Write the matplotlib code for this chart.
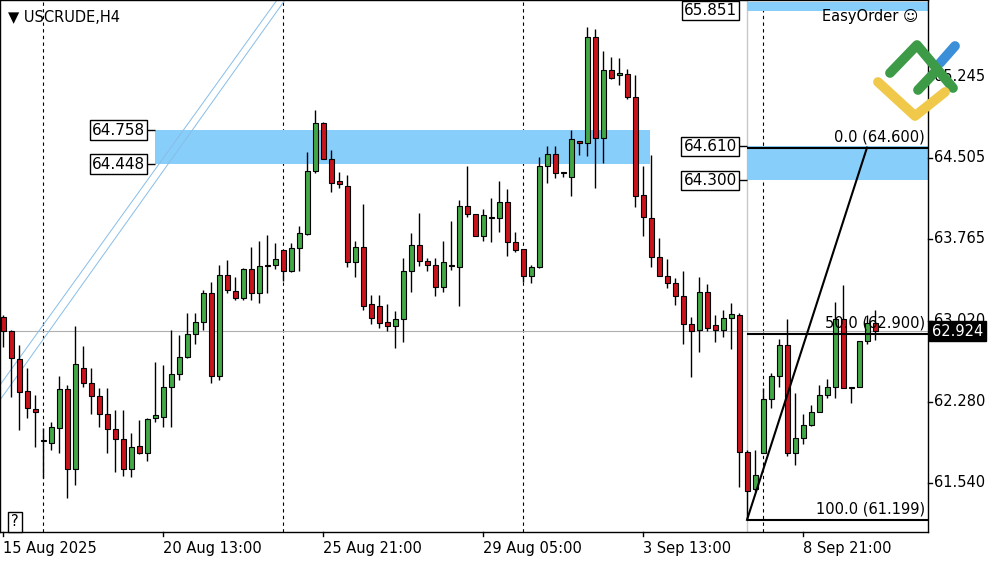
import matplotlib
matplotlib.use("Agg")
import matplotlib.pyplot as plt
from matplotlib.patches import Rectangle

opens = [63.05,62.92,62.67,62.38,62.21,61.93,61.90,62.04,62.39,61.66,62.59,62.45,62.33,62.17,62.03,61.94,61.66,61.87,61.81,62.13,
62.14,62.41,62.53,62.69,62.90,63.01,63.27,62.51,63.44,63.29,63.23,63.49,63.27,63.53,63.53,63.66,63.47,63.68,63.81,64.39,
64.82,64.50,64.29,64.25,63.55,63.69,63.17,63.15,63.01,62.97,63.03,63.47,63.71,63.56,63.53,63.33,63.53,63.51,64.07,63.99,
63.79,63.97,63.96,64.10,63.74,63.67,63.43,63.51,64.43,64.54,64.37,64.33,64.66,64.64,65.61,64.69,65.31,65.26,65.27,65.06,
64.17,63.96,63.60,63.43,63.36,63.24,62.99,62.93,63.28,62.98,62.93,63.04,63.07,61.82,61.48,61.81,62.30,62.51,62.80,61.81,
61.95,62.07,62.18,62.34,62.41,63.03,62.41,62.41,62.83,63.00]
closes = [62.92,62.68,62.37,62.22,62.18,61.92,62.05,62.39,61.66,62.62,62.45,62.33,62.17,62.03,61.94,61.66,61.86,61.81,62.12,62.16,
62.41,62.53,62.69,62.90,63.01,63.27,62.51,63.44,63.30,63.23,63.49,63.27,63.52,63.52,63.58,63.47,63.68,63.82,64.39,64.82,
64.50,64.28,64.27,63.55,63.69,63.15,63.04,63.00,62.97,63.03,63.47,63.71,63.56,63.53,63.33,63.55,63.52,64.07,63.99,63.79,
63.98,63.96,64.10,63.74,63.66,63.43,63.51,64.43,64.54,64.37,64.38,64.68,64.64,65.61,64.69,65.31,65.24,65.28,65.06,64.16,
63.97,63.60,63.43,63.36,63.24,62.99,62.92,63.28,62.95,62.93,63.04,63.08,61.82,61.46,61.61,62.30,62.51,62.80,61.81,61.95,
62.07,62.18,62.34,62.41,63.03,62.40,62.40,62.83,63.00,62.924]
highs = [63.07,62.93,62.80,62.59,62.34,62.04,62.09,62.51,62.43,62.97,62.79,62.59,62.40,62.40,62.20,62.20,61.99,62.11,62.13,62.64,
62.61,62.93,62.89,63.09,63.09,63.30,63.37,63.53,63.57,63.42,63.50,63.69,63.75,63.80,63.73,63.66,63.73,63.88,64.56,64.94,
64.83,64.58,64.38,64.35,63.75,64.08,63.25,63.25,63.17,63.11,63.59,63.82,64.00,63.59,63.59,63.75,63.93,64.12,64.43,63.99,
64.04,64.14,64.29,64.22,63.83,63.67,63.53,64.51,64.61,64.61,64.38,64.76,64.66,65.70,65.68,65.48,65.43,65.42,65.32,65.26,
64.43,64.53,63.77,63.58,63.41,63.47,63.05,63.42,63.35,63.07,63.12,63.18,63.09,61.84,61.84,62.40,62.54,62.85,63.03,62.36,
62.17,62.25,62.43,62.49,63.19,63.34,62.41,62.83,63.07,63.12]
lows = [62.78,62.32,62.02,62.13,61.86,61.58,61.84,61.81,61.40,61.52,62.41,62.17,62.05,61.81,61.64,61.60,61.59,61.80,61.74,62.09,
62.05,62.05,62.48,62.68,62.81,62.93,62.45,62.48,63.27,63.21,63.21,63.21,63.18,63.27,63.49,63.38,63.46,63.47,63.80,64.37,
64.50,64.19,64.23,63.51,63.42,63.12,62.99,62.95,62.92,62.77,62.82,63.28,63.52,63.47,63.24,63.28,63.48,63.15,63.97,63.79,
63.75,63.74,63.83,63.61,63.65,63.37,63.36,63.50,64.28,64.32,64.33,64.16,64.53,64.52,64.23,64.46,65.23,65.17,65.04,64.06,
63.79,63.51,63.43,63.32,63.16,62.81,62.50,62.73,62.92,62.82,62.87,62.76,61.50,61.20,61.46,61.81,62.22,62.41,61.78,61.70,
61.89,62.06,62.18,62.31,62.31,62.40,62.27,62.41,62.81,62.84]

x_labels = ["15 Aug 2025", "20 Aug 13:00", "25 Aug 21:00", "29 Aug 05:00", "3 Sep 13:00", "8 Sep 21:00"]
x_label_idx = [0, 20, 40, 60, 80, 100]
sep_idx = [5, 35, 65, 95]
y_ticks = [65.245, 64.505, 63.765, 63.020, 62.280, 61.540]
zone1 = (64.448, 64.758)
zone2 = (64.300, 64.610)
fib = (61.199, 62.900, 64.600)
last_price = 62.924
top_price = 65.851

W, H = 1000, 562
FS = 10.5
fig = plt.figure(figsize=(W/100, H/100), dpi=100)
ax = fig.add_axes([0, 30/H, 928/W, 532/H])
PX = 8.0
def kx(px):
    return (px - 3.3) / PX
ymax, ymin = 65.948, 61.088
ax.set_xlim(kx(0), kx(928))
ax.set_ylim(ymin, ymax)
def py(y):
    return ymax - (ymax - ymin) * y / 532

green, red = "#41a845", "#c8141c"
for i, (o, c, h, l) in enumerate(zip(opens, closes, highs, lows)):
    ax.vlines(i, l, h, color="black", lw=1, zorder=3)
    lo, hi = min(o, c), max(o, c)
    ht = max(hi - lo, 0.008)
    ax.add_patch(Rectangle((i - 0.32, lo), 0.64, ht, facecolor=green if c >= o else red,
                           edgecolor="black", lw=0.8, zorder=4))

ax.add_patch(Rectangle((kx(155), zone1[0]), kx(650) - kx(155), zone1[1] - zone1[0], color="#87cefa", zorder=1, lw=0))
ax.add_patch(Rectangle((kx(747), zone2[0]), kx(928) - kx(747), zone2[1] - zone2[0], color="#87cefa", zorder=1, lw=0))
ax.add_patch(Rectangle((kx(747), py(11)), kx(928) - kx(747), py(2) - py(11), color="#87cefa", zorder=1, lw=0))

def label_box(px_right, val, txt=None):
    ax.text(kx(px_right), val, txt or f"{val:.3f}", ha="right", va="center", fontsize=FS + 0.5,
            bbox=dict(boxstyle="square,pad=0.15", fc="white", ec="black", lw=1), zorder=6)
label_box(145, zone1[1]); label_box(145, zone1[0])
ax.hlines([zone1[1], zone1[0]], kx(147), kx(155), color="black", lw=1)
label_box(737, zone2[1]); label_box(737, zone2[0])
ax.hlines([zone2[1], zone2[0]], kx(739), kx(747), color="black", lw=1)
label_box(737, top_price)

for s in sep_idx:
    ax.axvline(s, color="black", lw=0.8, ls=(0, (3, 3)), zorder=0)
ax.axvline(kx(747), color="#c8c8c8", lw=1, zorder=0)
ax.axhline(last_price, color="#b0b0b0", lw=0.8, zorder=0)

ax.plot([kx(0), kx(285)], [py(400), py(0)], color="#87bde8", lw=0.7, zorder=2)
ax.plot([kx(0), kx(277)], [py(385), py(0)], color="#87bde8", lw=0.7, zorder=2)

ax.hlines(fib, kx(747), kx(928), color="black", lw=1.5, zorder=5)
ax.plot([kx(747), kx(867)], [fib[0], fib[2]], color="black", lw=1.5, zorder=5)
for lvl, v in zip(["100.0", "50.0", "0.0"], fib):
    ax.text(kx(925), v + 0.03, f"{lvl} ({v:.3f})", ha="right", va="bottom", fontsize=FS, zorder=6)

ax.set_xticks([]); ax.set_yticks([])
for s in ax.spines.values():
    s.set_color("black"); s.set_linewidth(1)
def fy(v):
    return (30 + 532 * (v - ymin) / (ymax - ymin)) / H
for t in y_ticks:
    fig.text(934/W, fy(t), f"{t:.3f}", fontsize=FS, va="center")
    fig.add_artist(plt.Line2D([928/W, 932/W], [fy(t)] * 2, color="black", lw=1))
fig.text(932/W, fy(last_price), f"{last_price:.3f}", fontsize=FS,
         va="center", color="white", bbox=dict(boxstyle="square,pad=0.2", fc="black", ec="black"))
for lab, idx in zip(x_labels, x_label_idx):
    fig.text((3.3 + PX * idx) / W, 14/H, lab, fontsize=FS, va="center", ha="left")
    fig.add_artist(plt.Line2D([(3.3 + PX * idx) / W] * 2, [26/H, 30/H], color="black", lw=1))

fig.text(8/W, 545/H, "▼ USCRUDE,H4", fontsize=FS, va="center")
fig.text(822/W, 545/H, "EasyOrder ☺", fontsize=FS, va="center")
fig.text(15/W, 40/H, "?", fontsize=FS, ha="center", va="center",
         bbox=dict(boxstyle="square,pad=0.2", fc="white", ec="black"))

def seg(xs, ys, col):
    fig.add_artist(plt.Line2D([x / W for x in xs], [(H - y) / H for y in ys], color=col, lw=7,
                              solid_capstyle="round", solid_joinstyle="round", zorder=10))
seg([940, 955], [63, 46], "#3a8fd8")
seg([890, 917, 953], [73, 45, 88], "#3d9a47")
seg([918, 935], [90, 72], "#3d9a47")
seg([878, 915, 945], [82, 116, 92], "#f0c84a")

fig.savefig("out.png", dpi=100)
